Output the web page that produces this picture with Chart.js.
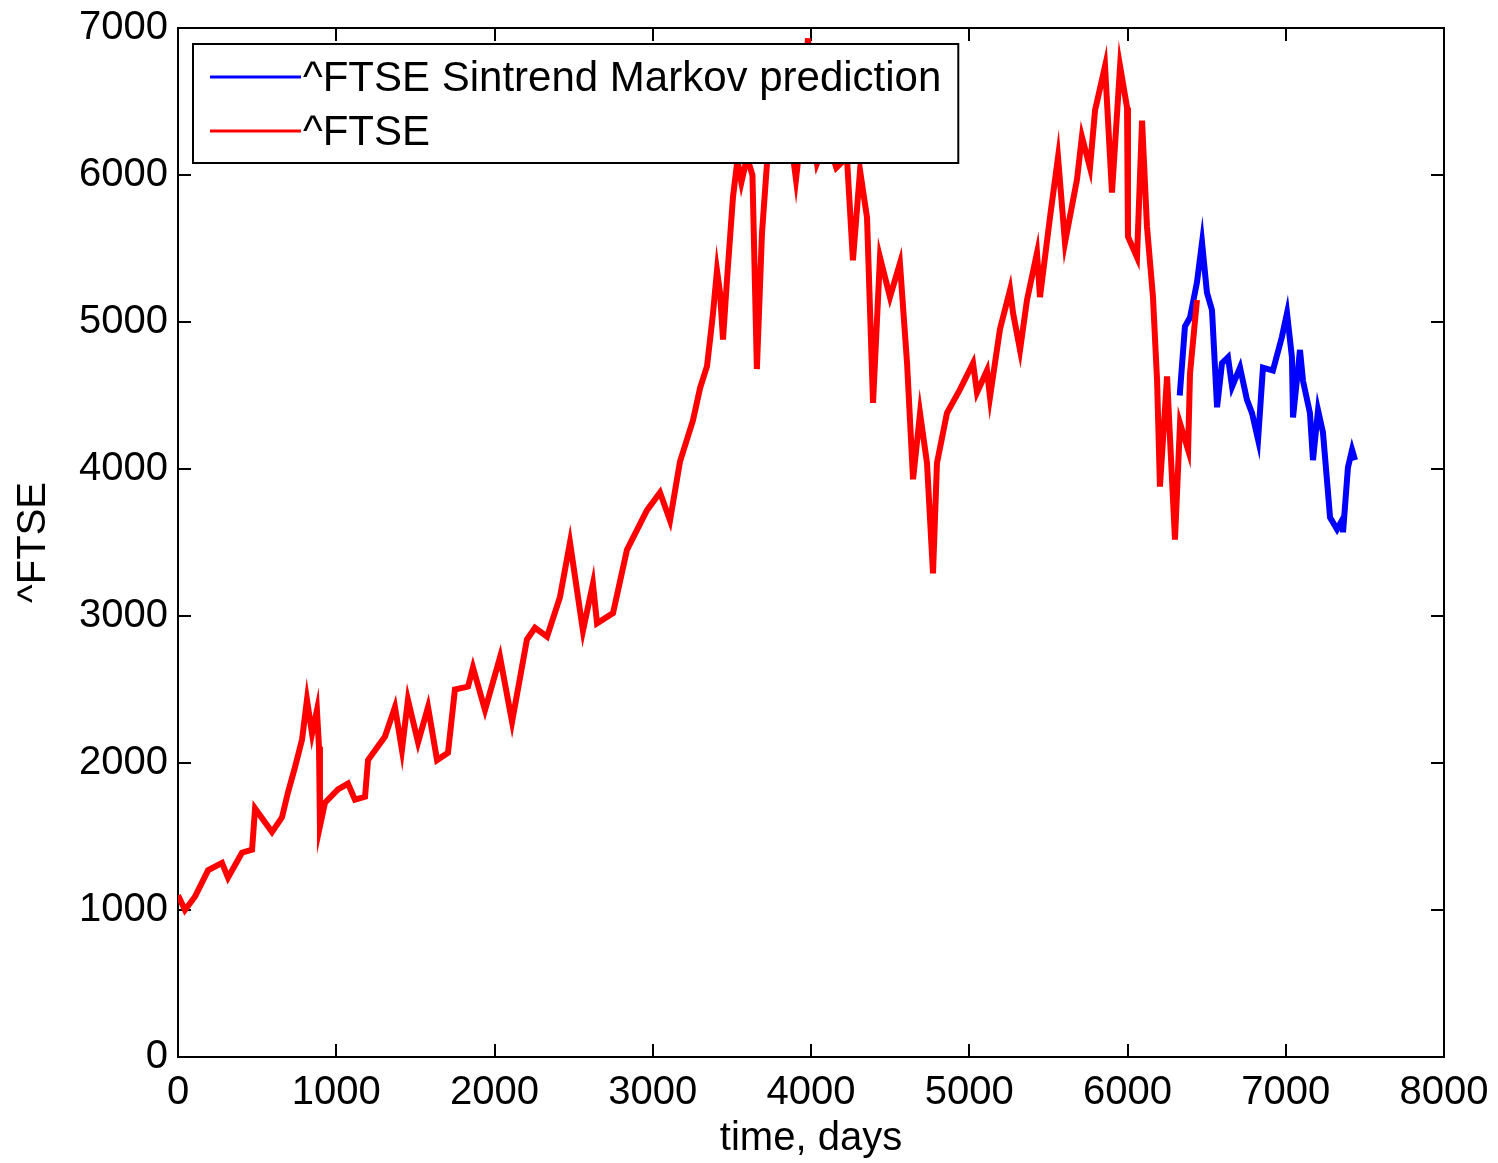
<!DOCTYPE html>
<html>
<head>
<meta charset="utf-8">
<script src="https://cdn.jsdelivr.net/npm/chart.js@4.4.1/dist/chart.umd.min.js"></script>
<style>
  body { margin: 0; background: #fff; }
  #c { display: block; }
</style>
</head>
<body>
<canvas id="c" width="1498" height="1163"></canvas>
<script>
// ^FTSE close (day, value)
var ftseDays = [0, 44, 107, 190, 278, 316, 404, 468, 487, 594, 657, 695, 739, 784, 815, 847, 878, 891, 897, 929,
  1011, 1074, 1118, 1182, 1201, 1308, 1371, 1415, 1453, 1517, 1580, 1637, 1706, 1750, 1833, 1864, 1940, 2035, 2111, 2205,
  2256, 2332, 2414, 2477, 2559, 2622, 2648, 2749, 2837, 2964, 3046, 3109, 3172, 3254, 3299, 3343, 3380, 3406, 3425, 3444,
  3470, 3507, 3535, 3560, 3596, 3630, 3658, 3690, 3722, 3760, 3810, 3860, 3905, 3950, 3981, 4010, 4038, 4100, 4160, 4227,
  4265, 4310, 4354, 4392, 4436, 4499, 4562, 4607, 4645, 4689, 4733, 4771, 4796, 4859, 4941, 5024, 5049, 5112, 5131, 5194,
  5258, 5277, 5321, 5365, 5428, 5447, 5510, 5561, 5605, 5681, 5712, 5763, 5795, 5858, 5902, 5953, 5997, 6003, 6060, 6092,
  6123, 6161, 6187, 6205, 6250, 6269, 6300, 6332, 6383, 6395, 6439];
var ftseClose = [1100, 1000, 1090, 1270, 1320, 1220, 1390, 1410, 1690, 1530, 1630, 1800, 1970, 2160, 2430, 2200, 2360, 2110, 1570, 1730,
  1820, 1860, 1750, 1770, 2020, 2180, 2380, 2090, 2430, 2140, 2380, 2020, 2070, 2500, 2520, 2650, 2360, 2720, 2280, 2840,
  2920, 2860, 3130, 3500, 2900, 3220, 2950, 3020, 3450, 3720, 3840, 3650, 4050, 4330, 4550, 4700, 5050, 5350, 5200, 4880,
  5300, 5850, 6100, 5950, 6120, 6000, 4680, 5600, 6080, 6300, 6150, 6350, 5970, 6400, 6930, 6300, 6080, 6250, 6050, 6120,
  5420, 6030, 5710, 4450, 5440, 5170, 5400, 4720, 3930, 4380, 4040, 3290, 4040, 4380, 4540, 4720, 4520, 4670, 4490, 4950,
  5220, 5060, 4810, 5150, 5470, 5170, 5710, 6120, 5540, 5970, 6260, 6050, 6440, 6740, 5880, 6740, 6460, 5580, 5440, 6370,
  5650, 5170, 4600, 3880, 4630, 4200, 3520, 4310, 4130, 4650, 5150];

// Sintrend Markov prediction
var predDays = [6330, 6363, 6395, 6439, 6471, 6502, 6534, 6553, 6566, 6597, 6635, 6661, 6711, 6755, 6787, 6825, 6856, 6919,
  6976, 7008, 7039, 7046, 7090, 7109, 7153, 7172, 7204, 7235, 7267, 7280, 7324, 7355, 7362, 7393, 7419, 7438];
var predClose = [4500, 4970, 5030, 5270, 5540, 5200, 5080, 4690, 4420, 4720, 4760, 4560, 4690, 4470, 4380, 4200, 4690, 4670,
  4900, 5060, 4760, 4350, 4810, 4600, 4380, 4060, 4400, 4250, 3840, 3670, 3590, 3650, 3570, 4010, 4130, 4060];

var seriesLabels = ['^FTSE Sintrend Markov prediction', '^FTSE'];
var xMin = 0, xMax = 8000, xStep = 1000;
var yMin = 0, yMax = 7000, yStep = 1000;

function pts(xs, ys) {
  var out = [];
  for (var i = 0; i < xs.length; i++) out.push({x: xs[i], y: ys[i]});
  return out;
}

var FONT = '"Liberation Sans", Arial, Helvetica, sans-serif';

// matlab style box with inward ticks
var framePlugin = {
  id: 'frame',
  beforeDatasetsDraw: function(chart) {
    var ctx = chart.ctx, a = chart.chartArea;
    var xs = chart.scales.x, ys = chart.scales.y;
    var tl = 13;
    ctx.save();
    ctx.strokeStyle = '#000';
    ctx.lineWidth = 2;
    ctx.strokeRect(a.left, a.top, a.right - a.left, a.bottom - a.top);
    ctx.beginPath();
    xs.ticks.forEach(function(t) {
      var px = Math.round(xs.getPixelForValue(t.value));
      ctx.moveTo(px, a.bottom); ctx.lineTo(px, a.bottom - tl);
      ctx.moveTo(px, a.top); ctx.lineTo(px, a.top + tl);
    });
    ys.ticks.forEach(function(t) {
      var py = Math.round(ys.getPixelForValue(t.value));
      ctx.moveTo(a.left, py); ctx.lineTo(a.left + tl, py);
      ctx.moveTo(a.right, py); ctx.lineTo(a.right - tl, py);
    });
    ctx.stroke();
    ctx.restore();
  },
  afterDatasetsDraw: function(chart) {
    // legend box in the upper left corner
    var ctx = chart.ctx, a = chart.chartArea;
    var ds = chart.data.datasets;
    ctx.save();
    ctx.font = '42px ' + FONT;
    var w = 0;
    ds.forEach(function(d) { w = Math.max(w, ctx.measureText(d.label).width); });
    var bx = a.left + 15, by = a.top + 16;
    var bw = 112 + w + 15, bh = 119;
    ctx.fillStyle = '#fff';
    ctx.fillRect(bx, by, bw, bh);
    ctx.strokeStyle = '#000';
    ctx.lineWidth = 2;
    ctx.strokeRect(bx, by, bw, bh);
    ds.forEach(function(d, i) {
      var cy = by + 33 + i * 54;
      ctx.strokeStyle = d.borderColor;
      ctx.lineWidth = 3;
      ctx.beginPath();
      ctx.moveTo(bx + 17, cy); ctx.lineTo(bx + 108, cy);
      ctx.stroke();
      ctx.fillStyle = '#000';
      ctx.textBaseline = 'middle';
      ctx.fillText(d.label, bx + 110, cy + 2);
    });
    ctx.restore();
  }
};

function plain(v) { return String(v); }

new Chart(document.getElementById('c'), {
  type: 'line',
  data: {
    datasets: [{
      label: seriesLabels[0],
      data: pts(predDays, predClose),
      borderColor: 'rgb(0, 0, 255)',
      borderWidth: 6,
      pointRadius: 0,
      fill: false,
      order: 1
    }, {
      label: seriesLabels[1],
      data: pts(ftseDays, ftseClose),
      borderColor: 'rgb(255, 0, 0)',
      borderWidth: 6,
      pointRadius: 0,
      fill: false,
      order: 0
    }]
  },
  options: {
    responsive: false,
    animation: false,
    events: [],
    layout: { padding: { top: 28, right: 54, left: 0, bottom: 0 } },
    plugins: { legend: { display: false }, tooltip: { enabled: false } },
    scales: {
      x: {
        type: 'linear', min: xMin, max: xMax,
        ticks: { stepSize: xStep, color: '#000', padding: 12, maxRotation: 0, callback: plain, font: { family: FONT, size: 40 } },
        grid: { display: false, drawTicks: false },
        border: { display: false },
        title: { display: true, text: 'time, days', color: '#000', padding: 0, font: { family: FONT, size: 40 } },
        afterFit: function(s) { s.height = 106; s.paddingLeft = 0; s.paddingRight = 0; }
      },
      y: {
        type: 'linear', min: yMin, max: yMax,
        ticks: { stepSize: yStep, color: '#000', padding: 10, callback: plain, font: { family: FONT, size: 40 } },
        grid: { display: false, drawTicks: false },
        border: { display: false },
        title: { display: true, text: '^FTSE', color: '#000', padding: { top: 10, bottom: 0 }, font: { family: FONT, size: 40 } },
        afterFit: function(s) { s.width = 178; s.paddingTop = 0; s.paddingBottom = 0; }
      }
    }
  },
  plugins: [framePlugin]
});
</script>
</body>
</html>
